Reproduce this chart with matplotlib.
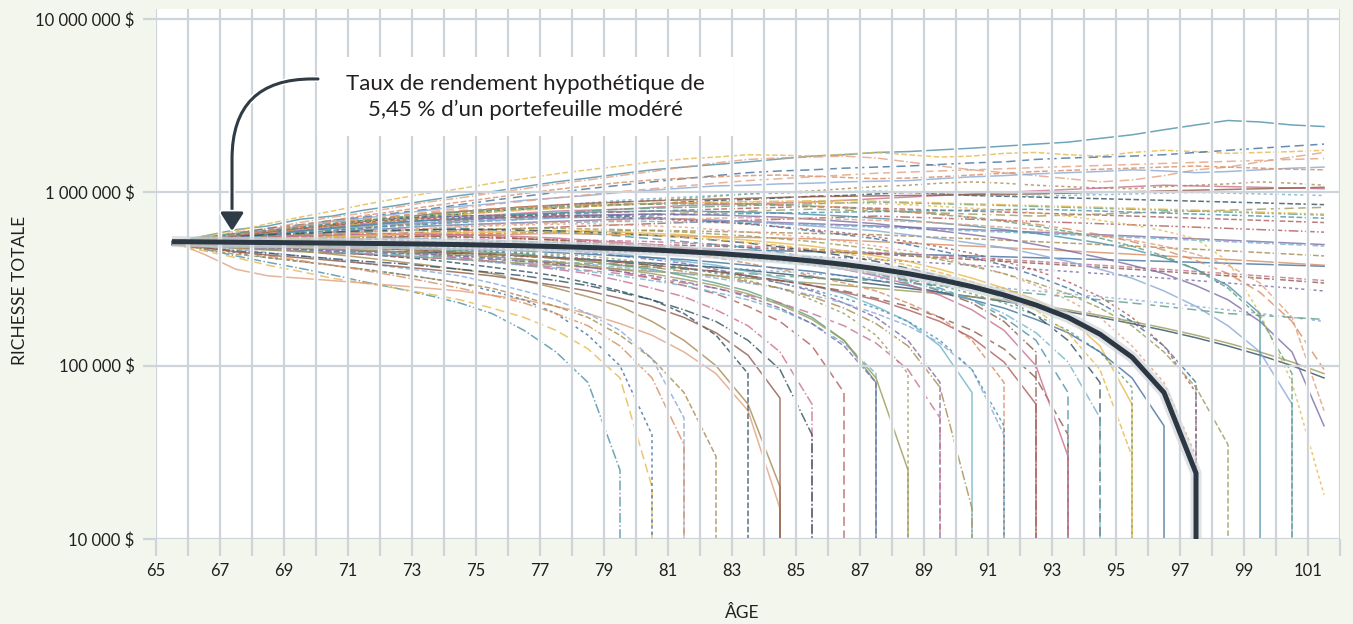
import numpy as np
import matplotlib
matplotlib.use("Agg")
import matplotlib.pyplot as plt
import matplotlib.patheffects as pe
from matplotlib.patches import Rectangle

plt.rcParams['font.family'] = ['Lato', 'DejaVu Sans']

# ages (une valeur par annee, point au milieu de l'annee)
ages = list(range(65, 102))

# richesse en milliers de $ ; 0 = portefeuille epuise
scenarios_hauts = [
    [520, 560, 610, 640, 700, 730, 790, 840, 900, 960, 1010, 1080, 1150, 1210, 1280, 1350, 1400, 1450, 1500, 1560, 1620, 1650, 1700, 1720, 1760, 1800, 1850, 1900, 1950, 2050, 2150, 2300, 2450, 2600, 2550, 2450, 2400],
    [510, 560, 600, 660, 720, 780, 850, 920, 990, 1050, 1130, 1200, 1280, 1350, 1420, 1500, 1560, 1600, 1650, 1640, 1620, 1660, 1700, 1650, 1600, 1620, 1680, 1700, 1650, 1620, 1700, 1750, 1720, 1680, 1700, 1720, 1750],
    [500, 540, 590, 620, 670, 720, 760, 820, 880, 930, 990, 1050, 1120, 1180, 1250, 1320, 1400, 1480, 1550, 1580, 1600, 1620, 1580, 1500, 1420, 1350, 1300, 1250, 1200, 1150, 1180, 1250, 1350, 1400, 1500, 1600, 1700],
    [520, 550, 580, 620, 650, 690, 720, 760, 800, 850, 900, 950, 1000, 1050, 1100, 1150, 1200, 1250, 1300, 1330, 1350, 1380, 1400, 1420, 1450, 1480, 1500, 1550, 1580, 1600, 1620, 1650, 1700, 1750, 1800, 1850, 1900],
    [510, 530, 560, 600, 640, 680, 710, 750, 790, 830, 860, 900, 930, 960, 1000, 1030, 1060, 1090, 1100, 1120, 1130, 1150, 1160, 1170, 1200, 1230, 1250, 1280, 1300, 1320, 1350, 1330, 1300, 1320, 1350, 1380, 1400],
    [500, 520, 550, 580, 610, 640, 670, 700, 720, 750, 770, 800, 830, 850, 880, 900, 920, 950, 980, 1000, 1020, 1050, 1080, 1100, 1130, 1150, 1130, 1100, 1080, 1060, 1050, 1080, 1100, 1120, 1150, 1130, 1100],
    [520, 545, 570, 600, 620, 650, 680, 700, 730, 750, 780, 800, 810, 830, 850, 860, 880, 900, 910, 930, 950, 960, 980, 1000, 980, 960, 950, 940, 930, 920, 910, 900, 890, 880, 870, 860, 850],
    [510, 540, 560, 590, 610, 640, 660, 690, 710, 730, 740, 760, 780, 790, 800, 820, 840, 850, 860, 870, 880, 900, 920, 940, 960, 980, 1000, 1020, 1040, 1060, 1080, 1100, 1090, 1080, 1070, 1060, 1050],
    [500, 520, 540, 560, 580, 600, 620, 650, 670, 690, 710, 730, 750, 760, 770, 780, 790, 800, 810, 820, 830, 820, 810, 800, 790, 780, 770, 760, 750, 740, 730, 720, 710, 700, 690, 680, 670],
    [520, 550, 580, 600, 620, 640, 660, 680, 690, 700, 720, 740, 760, 780, 800, 810, 820, 830, 840, 850, 860, 870, 880, 870, 860, 850, 840, 830, 820, 810, 800, 790, 780, 770, 760, 750, 740],
    [510, 530, 550, 570, 590, 610, 630, 650, 660, 680, 700, 710, 720, 730, 740, 750, 760, 770, 780, 790, 800, 790, 780, 770, 760, 750, 740, 730, 740, 750, 760, 770, 780, 790, 800, 810, 820],
    [500, 510, 530, 550, 570, 590, 610, 620, 640, 650, 660, 670, 680, 690, 700, 710, 700, 690, 680, 670, 660, 650, 640, 630, 620, 610, 600, 590, 580, 570, 560, 550, 540, 530, 520, 510, 500],
    [520, 540, 560, 580, 600, 630, 660, 690, 720, 750, 780, 810, 840, 870, 900, 920, 940, 960, 980, 990, 1000, 1010, 1020, 1000, 980, 970, 960, 950, 960, 970, 980, 990, 1000, 990, 980, 970, 960],
    [515, 540, 575, 610, 650, 690, 735, 780, 830, 880, 930, 985, 1040, 1090, 1140, 1180, 1210, 1230, 1250, 1260, 1240, 1220, 1200, 1210, 1230, 1260, 1290, 1320, 1340, 1360, 1380, 1400, 1420, 1400, 1380, 1360, 1350],
    [505, 525, 555, 585, 615, 650, 680, 710, 745, 775, 800, 825, 845, 865, 880, 895, 905, 915, 925, 935, 945, 950, 955, 960, 965, 970, 975, 980, 990, 1000, 1010, 1020, 1030, 1040, 1050, 1060, 1070],
    [520, 535, 550, 565, 585, 605, 625, 640, 655, 670, 685, 700, 715, 725, 735, 740, 745, 750, 755, 760, 765, 770, 775, 780, 785, 790, 795, 800, 790, 780, 770, 760, 750, 740, 730, 720, 710],
    [510, 530, 555, 580, 605, 630, 660, 690, 720, 745, 770, 790, 810, 830, 845, 860, 870, 880, 885, 890, 895, 900, 890, 880, 870, 860, 850, 840, 830, 820, 810, 800, 790, 780, 770, 760, 750],
    [500, 520, 545, 575, 610, 650, 690, 730, 770, 810, 850, 890, 930, 970, 1010, 1050, 1090, 1130, 1170, 1200, 1230, 1260, 1290, 1310, 1330, 1350, 1370, 1390, 1410, 1430, 1450, 1470, 1490, 1510, 1530, 1550, 1570],
]

scenarios_moyens = [
    [510, 505, 500, 505, 510, 500, 495, 490, 495, 500, 505, 500, 495, 490, 485, 480, 475, 470, 465, 460, 455, 450, 445, 440, 435, 430, 425, 420, 415, 410, 405, 400, 395, 390, 385, 380, 375],
    [500, 495, 490, 480, 470, 465, 460, 455, 450, 440, 430, 425, 420, 410, 400, 390, 380, 370, 360, 350, 340, 330, 320, 310, 300, 290, 280, 270, 260, 250, 240, 230, 220, 210, 200, 190, 180],
    [520, 525, 530, 540, 550, 555, 560, 565, 570, 575, 580, 585, 590, 595, 600, 605, 600, 595, 590, 585, 580, 575, 570, 560, 550, 540, 530, 520, 510, 500, 490, 480, 470, 460, 450, 440, 430],
    [510, 500, 490, 485, 480, 470, 460, 455, 450, 445, 440, 430, 420, 410, 400, 390, 380, 370, 355, 340, 325, 310, 295, 280, 265, 250, 235, 220, 205, 190, 175, 160, 145, 130, 115, 100, 85],
    [500, 510, 515, 520, 525, 530, 535, 540, 545, 550, 545, 540, 535, 530, 525, 520, 510, 500, 490, 480, 470, 460, 450, 440, 430, 420, 410, 400, 390, 380, 370, 360, 350, 340, 330, 320, 310],
    [520, 530, 535, 545, 560, 570, 575, 580, 590, 600, 610, 620, 630, 640, 650, 660, 670, 680, 690, 700, 710, 720, 730, 720, 710, 700, 690, 680, 670, 660, 650, 640, 630, 620, 610, 600, 590],
    [510, 495, 485, 470, 460, 450, 445, 440, 430, 420, 410, 400, 395, 390, 380, 370, 360, 350, 340, 330, 320, 315, 310, 300, 290, 280, 270, 260, 250, 240, 230, 220, 210, 200, 195, 190, 185],
    [500, 490, 475, 465, 455, 445, 440, 430, 420, 410, 400, 390, 380, 370, 360, 350, 340, 330, 320, 310, 300, 290, 280, 270, 260, 250, 240, 225, 210, 195, 180, 165, 150, 135, 120, 105, 90],
    [520, 515, 510, 505, 500, 498, 495, 490, 485, 480, 475, 470, 465, 460, 455, 450, 445, 440, 435, 430, 425, 420, 410, 400, 390, 380, 370, 360, 350, 340, 330, 320, 310, 300, 290, 280, 270],
    [500, 515, 535, 555, 575, 595, 610, 625, 640, 650, 660, 665, 670, 675, 680, 680, 675, 670, 665, 660, 650, 640, 630, 620, 610, 600, 590, 580, 570, 560, 550, 540, 530, 520, 510, 500, 490],
    [520, 510, 505, 510, 520, 530, 540, 550, 560, 565, 570, 575, 580, 575, 570, 565, 560, 555, 550, 545, 540, 530, 520, 510, 500, 490, 480, 470, 460, 450, 440, 430, 420, 410, 400, 390, 380],
    [510, 500, 495, 490, 490, 495, 500, 505, 510, 515, 520, 520, 515, 510, 505, 500, 495, 490, 480, 470, 460, 450, 440, 430, 420, 410, 400, 390, 380, 370, 360, 350, 340, 330, 320, 310, 300],
]

scenarios_epuises = [
    [510, 470, 430, 395, 365, 335, 305, 280, 255, 230, 200, 160, 120, 80, 25, 0],
    [500, 460, 420, 380, 350, 320, 300, 280, 260, 240, 215, 190, 160, 125, 85, 20, 0],
    [520, 440, 360, 330, 320, 310, 300, 290, 280, 270, 255, 240, 220, 200, 175, 150, 120, 90, 55, 15, 0],
    [510, 480, 450, 420, 400, 380, 360, 340, 320, 300, 270, 240, 200, 150, 100, 40, 0],
    [500, 490, 470, 450, 430, 410, 390, 370, 350, 330, 300, 270, 240, 200, 160, 110, 50, 0],
    [520, 500, 480, 470, 460, 440, 420, 400, 380, 360, 340, 310, 280, 250, 220, 180, 140, 100, 60, 20, 0],
    [510, 500, 490, 480, 470, 455, 440, 425, 410, 390, 370, 350, 330, 300, 270, 240, 200, 150, 90, 0],
    [500, 510, 500, 490, 480, 470, 460, 450, 440, 420, 400, 380, 360, 340, 310, 280, 250, 210, 170, 120, 60, 0],
    [520, 530, 520, 510, 500, 490, 480, 470, 460, 450, 430, 410, 390, 370, 350, 320, 290, 260, 220, 180, 130, 70, 0],
    [510, 520, 530, 520, 510, 500, 490, 480, 470, 460, 450, 440, 420, 400, 380, 360, 330, 300, 270, 230, 190, 140, 80, 0],
    [500, 505, 510, 515, 505, 495, 490, 485, 480, 470, 460, 450, 440, 430, 410, 390, 370, 340, 310, 280, 240, 200, 150, 90, 0],
    [520, 540, 550, 560, 560, 550, 540, 530, 520, 510, 500, 490, 470, 450, 430, 410, 390, 360, 330, 300, 270, 230, 190, 140, 80, 0],
    [510, 520, 525, 530, 535, 530, 520, 510, 500, 495, 490, 480, 470, 460, 440, 420, 400, 380, 350, 320, 290, 260, 220, 180, 130, 70, 0],
    [500, 515, 530, 545, 560, 570, 575, 580, 575, 570, 560, 545, 530, 510, 490, 470, 450, 420, 390, 360, 330, 300, 270, 230, 190, 140, 80, 0],
    [520, 525, 530, 535, 540, 545, 550, 555, 560, 555, 550, 540, 530, 520, 505, 490, 475, 460, 440, 420, 400, 370, 340, 310, 270, 230, 180, 120, 0],
    [510, 530, 550, 560, 570, 580, 590, 600, 610, 620, 610, 600, 590, 580, 560, 540, 520, 500, 480, 450, 420, 390, 360, 320, 280, 240, 190, 140, 70, 0],
    [500, 510, 520, 530, 540, 550, 560, 570, 580, 585, 590, 595, 600, 600, 590, 580, 570, 550, 530, 510, 490, 460, 430, 400, 360, 320, 280, 240, 190, 130, 60, 0],
    [520, 530, 545, 560, 575, 590, 600, 610, 620, 630, 640, 650, 655, 660, 650, 640, 630, 610, 590, 570, 550, 520, 490, 460, 420, 380, 340, 290, 240, 190, 130, 80, 30, 0],
    [510, 540, 570, 600, 630, 660, 690, 710, 720, 730, 735, 740, 740, 735, 730, 720, 700, 680, 660, 630, 600, 570, 540, 500, 460, 420, 380, 330, 280, 230, 180, 130, 80, 0],
    [500, 520, 540, 570, 600, 620, 640, 660, 670, 680, 690, 700, 710, 720, 715, 710, 700, 690, 680, 660, 640, 620, 600, 570, 540, 510, 480, 440, 400, 360, 320, 270, 220, 170, 120, 60, 0],
    [510, 470, 440, 420, 400, 380, 360, 340, 320, 300, 280, 250, 220, 190, 150, 110, 70, 30, 0],
    [500, 480, 460, 445, 430, 415, 400, 390, 375, 360, 345, 330, 310, 290, 265, 240, 210, 180, 140, 95, 40, 0],
    [520, 500, 485, 470, 460, 450, 440, 430, 420, 410, 400, 385, 370, 355, 340, 320, 300, 280, 255, 230, 200, 170, 135, 95, 50, 0],
    [510, 520, 510, 500, 490, 480, 475, 470, 460, 450, 440, 430, 420, 410, 395, 380, 365, 350, 330, 310, 290, 265, 240, 210, 180, 145, 105, 60, 0],
    [500, 505, 515, 520, 530, 525, 520, 515, 510, 505, 500, 495, 490, 480, 470, 460, 445, 430, 415, 400, 380, 360, 340, 315, 290, 260, 230, 195, 160, 120, 75, 0],
    [520, 535, 550, 560, 570, 580, 590, 600, 605, 610, 615, 620, 620, 615, 610, 600, 590, 575, 560, 540, 520, 495, 470, 440, 410, 375, 340, 300, 260, 215, 170, 120, 75, 35, 0],
    [510, 530, 550, 575, 600, 625, 650, 670, 690, 700, 710, 720, 730, 740, 745, 750, 745, 740, 730, 720, 700, 680, 660, 630, 600, 570, 540, 500, 460, 420, 380, 340, 290, 240, 180, 120, 45],
    [500, 490, 485, 475, 465, 455, 445, 435, 425, 410, 395, 380, 365, 350, 330, 310, 290, 265, 240, 210, 175, 135, 90, 0],
    [510, 480, 455, 430, 405, 380, 355, 330, 305, 280, 255, 230, 200, 170, 130, 85, 35, 0],
    [520, 510, 500, 495, 490, 485, 480, 470, 460, 450, 440, 430, 420, 410, 395, 380, 365, 350, 330, 310, 290, 270, 245, 220, 190, 160, 125, 85, 40, 0],
    [500, 520, 545, 570, 595, 620, 645, 670, 690, 710, 730, 750, 760, 770, 775, 780, 780, 775, 770, 760, 745, 730, 710, 690, 665, 640, 610, 580, 545, 510, 470, 420, 360, 290, 200, 0],
    [510, 530, 560, 590, 620, 650, 680, 710, 740, 760, 780, 800, 820, 840, 850, 860, 870, 875, 880, 880, 875, 870, 860, 850, 830, 810, 790, 760, 730, 690, 650, 600, 540, 400, 200, 80, 18],
    [500, 515, 530, 545, 560, 575, 590, 605, 620, 635, 650, 660, 670, 680, 690, 700, 705, 710, 715, 710, 705, 700, 690, 680, 665, 650, 630, 610, 585, 560, 530, 490, 440, 380, 300, 190, 55],
    [520, 510, 505, 500, 495, 490, 485, 480, 475, 470, 465, 460, 450, 440, 430, 420, 410, 395, 380, 365, 350, 330, 310, 290, 265, 240, 215, 185, 155, 120, 85, 45, 0],
    [510, 500, 495, 490, 480, 470, 460, 450, 440, 430, 420, 410, 400, 385, 370, 355, 340, 320, 300, 280, 255, 230, 200, 170, 135, 95, 40, 0],
    [500, 505, 500, 495, 490, 485, 480, 470, 460, 450, 440, 430, 415, 400, 385, 370, 350, 330, 305, 280, 250, 215, 175, 130, 75, 15, 0],
    [520, 540, 560, 570, 580, 590, 600, 605, 610, 612, 610, 605, 600, 590, 580, 565, 550, 530, 510, 485, 460, 430, 400, 365, 330, 290, 245, 195, 140, 80, 0],
    [510, 525, 540, 550, 560, 565, 570, 575, 575, 570, 565, 555, 545, 530, 515, 500, 480, 460, 440, 415, 390, 360, 330, 295, 255, 210, 160, 100, 30, 0],
    [500, 530, 560, 590, 620, 645, 670, 690, 705, 715, 720, 725, 725, 720, 715, 705, 690, 675, 655, 635, 610, 585, 555, 520, 485, 445, 400, 355, 305, 250, 190, 130, 70, 0],
    [520, 545, 575, 600, 630, 660, 690, 720, 745, 770, 790, 810, 825, 840, 850, 855, 860, 860, 855, 845, 830, 815, 795, 770, 745, 715, 680, 640, 595, 545, 490, 430, 360, 280, 190, 90, 0],
    [510, 500, 490, 480, 475, 470, 465, 455, 445, 435, 425, 410, 395, 380, 360, 340, 315, 290, 260, 225, 185, 140, 85, 25, 0],
    [500, 495, 485, 480, 470, 460, 455, 445, 440, 430, 415, 400, 385, 370, 350, 330, 305, 280, 250, 215, 175, 130, 80, 0],
    [520, 530, 535, 540, 545, 550, 550, 545, 540, 535, 530, 520, 510, 500, 490, 475, 460, 445, 425, 405, 385, 360, 335, 305, 275, 240, 200, 155, 105, 50, 0],
    [510, 540, 570, 600, 635, 670, 700, 730, 760, 785, 805, 825, 840, 850, 860, 865, 870, 865, 860, 850, 835, 820, 800, 775, 750, 720, 690, 655, 615, 570, 520, 465, 405, 340, 265, 180, 95],
    [500, 480, 455, 435, 420, 405, 390, 375, 360, 345, 330, 310, 290, 270, 245, 220, 190, 155, 115, 65, 0],
    [520, 525, 525, 520, 515, 505, 495, 485, 475, 465, 455, 445, 430, 415, 400, 385, 365, 345, 325, 300, 275, 245, 215, 180, 140, 95, 45, 0],
    [510, 515, 525, 535, 545, 555, 565, 575, 585, 590, 595, 595, 590, 585, 575, 565, 550, 535, 515, 495, 470, 445, 415, 380, 345, 305, 260, 210, 155, 95, 30, 0],
]

# trajectoire au taux de rendement hypothetique de 5,45 %
trajectoire_5_45 = [520, 518, 516, 514, 512, 510, 508, 506, 503, 500, 496, 492, 487, 481, 474, 466, 456, 445,
                    432, 418, 402, 384, 363, 340, 314, 286, 256, 224, 190, 152, 112, 70, 24, 0]

couleurs = ['#4a8fa8', '#d98c5f', '#7d6aa8', '#5d9e7e', '#c86f8f', '#a68a4f', '#3f6f9e', '#e6b84a',
            '#8c5a4a', '#6fb3c9', '#9a9a5a', '#b05a5a', '#2f4f5f', '#88a8d8', '#e0a080']
tirets = ['-', '--', '-.', (0, (6, 3)), '-', (0, (2, 2)), '--']

grille = '#cfd3da'
texte = '#231f20'

fig = plt.figure(figsize=(13.53, 6.24), dpi=100, facecolor='#f2f6ed')
ax = fig.add_axes([0.1153, 0.1362, 0.8751, 0.8494])
ax.set_facecolor('white')

x = np.array(ages) + 0.5
tous = scenarios_hauts + scenarios_moyens + scenarios_epuises
for i, s in enumerate(tous):
    v = np.array(s) * 1000.0
    ax.plot(x[:len(v)], v, color=couleurs[(i * 7) % len(couleurs)], ls=tirets[i % len(tirets)],
            lw=1.1, alpha=0.8, zorder=2)

ax.set_yscale('log')
ax.set_xlim(65, 102)
ax.set_ylim(1e4, 1.144e7)

# grille par-dessus les scenarios
for a in range(65, 103):
    ax.axvline(a, color='white', lw=3.2, zorder=3)
    ax.axvline(a, color=grille, lw=1.6, zorder=3.1)
for yv in [1e4, 1e5, 1e6, 1e7]:
    ax.axhline(yv, color=grille, lw=1.6, zorder=3.1)

m = np.array(trajectoire_5_45) * 1000.0
ax.plot(x[:len(m)], m, color='#2b3742', lw=3.6, zorder=5, solid_capstyle='butt',
        path_effects=[pe.Stroke(linewidth=8, foreground='#d2d6da', alpha=0.7), pe.Normal()])

for sp in ax.spines.values():
    sp.set_visible(False)

ax.set_xticks(range(65, 103))
ax.set_xticklabels([str(a) if (a - 65) % 2 == 0 and a < 102 else '' for a in range(65, 103)])
yt = [1e4, 1e5, 1e6, 1e7]
ax.set_yticks(yt)
ax.set_yticklabels([f"{int(v):,}".replace(',', ' ') + ' $' for v in yt])
ax.minorticks_off()
ax.tick_params(axis='x', length=12.5, width=1.6, color=grille, pad=5, labelsize=12, labelcolor=texte)
ax.tick_params(axis='y', length=9.5, width=1.6, color=grille, pad=6, labelsize=12, labelcolor=texte)

fig.text(20 / 1353, 1 - 290 / 624, 'RICHESSE TOTALE', rotation=90, ha='center', va='center',
         fontsize=12.5, color=texte)
fig.text(742 / 1353, 1 - 613 / 624, 'ÂGE', ha='center', va='center', fontsize=12.5, color=texte)

# encadre blanc de l'annotation
ax.add_patch(Rectangle((0.136, 0.760), 0.351, 0.149, transform=ax.transAxes, fc='white', ec='none',
                       zorder=6))
ax.text(0.3117, 0.834, 'Taux de rendement hypothétique de\n5,45 % d’un portefeuille modéré',
        transform=ax.transAxes, ha='center', va='center', fontsize=16, color=texte, linespacing=1.3,
        zorder=7)

ax.annotate('', xy=(0.0642, 0.581), xycoords='axes fraction', xytext=(0.1368, 0.868),
            textcoords='axes fraction', zorder=7,
            arrowprops=dict(arrowstyle='-|>,head_length=0.55,head_width=0.35', mutation_scale=20,
                            color='#2f3b45', lw=2.2,
                            connectionstyle='angle,angleA=0,angleB=90,rad=80', shrinkA=0, shrinkB=0,
                            path_effects=[pe.Stroke(linewidth=4.5, foreground='white'), pe.Normal()]))

fig.savefig('out.png', dpi=100, facecolor=fig.get_facecolor())
